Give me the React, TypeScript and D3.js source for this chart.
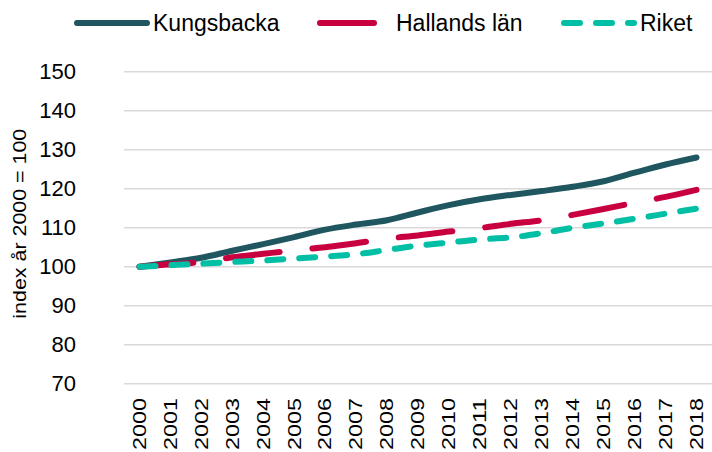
import React from "react";
import * as d3 from "d3";

const years = ["2000","2001","2002","2003","2004","2005","2006","2007","2008","2009","2010","2011","2012","2013","2014","2015","2016","2017","2018"];
const kungsbacka = [100, 101.1, 102.3, 104.1, 105.8, 107.6, 109.5, 110.8, 111.9, 113.9, 115.8, 117.3, 118.4, 119.4, 120.5, 121.9, 124.1, 126.2, 128.0];
const hallands = [100, 100.6, 101.2, 102.4, 103.3, 104.2, 105.0, 106.0, 107.2, 108.0, 109.0, 109.9, 111.0, 111.9, 113.3, 114.8, 116.4, 117.9, 119.7];
const riket = [100, 100.4, 100.8, 101.2, 101.6, 102.1, 102.6, 103.2, 104.3, 105.4, 106.2, 107.0, 107.5, 108.6, 110.0, 111.1, 112.3, 113.6, 114.9];
const yTicks = [70, 80, 90, 100, 110, 120, 130, 140, 150];
const seriesNames = ["Kungsbacka", "Hallands län", "Riket"];
const yTitle = "index år 2000 = 100";

const W = 712, H = 452;
const FONT = "'Liberation Sans', Arial, sans-serif";

const series = [
  { name: seriesNames[0], values: kungsbacka, color: "#1F5660", dash: "none" },
  { name: seriesNames[1], values: hallands, color: "#C8003F", dash: "54 33" },
  { name: seriesNames[2], values: riket, color: "#00BFA5", dash: "16 16" },
];

export default function App() {
  const x = d3.scalePoint<string>().domain(years).range([124, 712]).padding(0.5);
  const y = d3.scaleLinear().domain([70, 150]).range([383.7, 71.7]);
  const line = d3
    .line<number>()
    .x((_, i) => x(years[i]) as number)
    .y((d) => y(d))
    .curve(d3.curveMonotoneX);

  const legendX = [77, 320, 564];
  const legendY = 23;

  return (
    <svg width={W} height={H} style={{ position: "absolute", left: 0, top: 0, background: "#fff" }} fontFamily={FONT}>
      {yTicks.map((t) => (
        <g key={t}>
          <line x1={124} x2={712} y1={y(t)} y2={y(t)} stroke="#D9D9D9" strokeWidth={1.5} />
          <text x={76} y={y(t)} dy="0.35em" textAnchor="end" fontSize={22} fill="#000">
            {t}
          </text>
        </g>
      ))}
      <text
        transform={`translate(20,${(71.7 + 383.7) / 2 - 4}) rotate(-90)`}
        textAnchor="middle"
        dy="0.35em"
        fontSize={18}
        textLength={190}
        lengthAdjust="spacingAndGlyphs"
        fill="#000"
      >
        {yTitle}
      </text>
      {years.map((yr) => (
        <text
          key={yr}
          transform={`translate(${x(yr)},398) rotate(-90)`}
          textAnchor="end"
          dy="0.35em"
          fontSize={18}
          textLength={52}
          lengthAdjust="spacingAndGlyphs"
          fill="#000"
        >
          {yr}
        </text>
      ))}
      {series.map((s) => (
        <path
          key={s.name}
          d={line(s.values) as string}
          fill="none"
          stroke={s.color}
          strokeWidth={6}
          strokeLinecap="round"
          strokeLinejoin="round"
          strokeDasharray={s.dash}
        />
      ))}
      {series.map((s, i) => (
        <g key={s.name}>
          <line
            x1={legendX[i]}
            x2={legendX[i] + 70}
            y1={legendY}
            y2={legendY}
            stroke={s.color}
            strokeWidth={6}
            strokeLinecap="round"
            strokeDasharray={s.dash}
          />
          <text x={legendX[i] + 76} y={legendY} dy="0.35em" fontSize={23} fill="#000">
            {s.name}
          </text>
        </g>
      ))}
    </svg>
  );
}
